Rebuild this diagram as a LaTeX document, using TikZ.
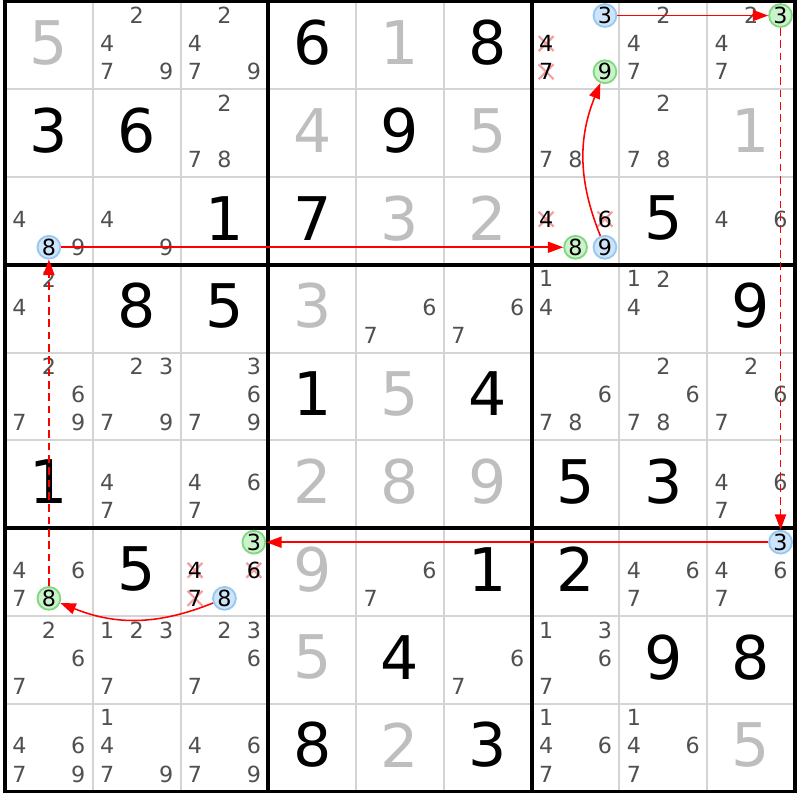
\documentclass[tikz,border=0pt]{standalone}
\usepackage{fontspec}
\setmainfont{DejaVu Sans}
\usepackage{tikz}
\usepackage{xcolor}
\usetikzlibrary{positioning, arrows.meta}

\definecolor{givengray}{RGB}{190,190,190}
\definecolor{candgray}{RGB}{80,80,80}
\definecolor{cellline}{RGB}{212,212,212}
\definecolor{onfill}{RGB}{206,228,250}
\definecolor{ondraw}{RGB}{150,200,240}
\definecolor{offfill}{RGB}{204,242,204}
\definecolor{offdraw}{RGB}{128,216,128}
\definecolor{strikecol}{RGB}{244,160,160}

\tikzset{
  given/.style={inner sep=0pt, text=givengray, font=\fontsize{19.5}{20}\selectfont},
  solved/.style={given, text=black},
  cand/.style={inner sep=0pt, text=candgray, font=\fontsize{7.2}{8}\selectfont},
  oncand/.style={circle, draw=ondraw, fill=onfill, line width=0.6pt, minimum size=0.26cm, inner sep=0pt, text=black, font=\fontsize{7.2}{8}\selectfont},
  offcand/.style={oncand, draw=offdraw, fill=offfill},
  strike/.style={strikecol, line width=0.7pt},
  link/.style={red, line width=0.5pt, -{Triangle[length=5pt, width=3.6pt]}},
  weak/.style={link, dash pattern=on 2.5pt off 1.5pt},
}

\begin{document}
\begin{tikzpicture}
\useasboundingbox[fill=white] (-0.057,-0.097) rectangle (9.057,9.017);

% grid
\foreach \i in {1,2,4,5,7,8} {
  \draw[cellline, line width=0.65pt] (\i,0) -- (\i,9);
  \draw[cellline, line width=0.65pt] (0,\i) -- (9,\i);
}
\foreach \i in {0,3,6,9} {
  \draw[black, line width=1.2pt] (\i,-0.02) -- (\i,9.02);
  \draw[black, line width=1.2pt] (-0.02,\i) -- (9.02,\i);
}

% big digits
\foreach \r/\c/\d in {1/1/5, 1/5/1, 2/4/4, 2/6/5, 2/9/1, 3/5/3, 3/6/2, 4/4/3, 5/5/5, 6/4/2, 6/5/8, 6/6/9, 7/4/9, 8/4/5, 9/5/2, 9/9/5}
  \node[given] (v\r\c) at ({\c-0.5},{9.53-\r}) {\d};
\foreach \r/\c/\d in {1/4/6, 1/6/8, 2/1/3, 2/2/6, 2/5/9, 3/3/1, 3/4/7, 3/8/5, 4/2/8, 4/3/5, 4/9/9, 5/4/1, 5/6/4, 6/1/1, 6/7/5, 6/8/3, 7/2/5, 7/6/1, 7/7/2, 8/5/4, 8/8/9, 8/9/8, 9/4/8, 9/6/3}
  \node[solved] (v\r\c) at ({\c-0.5},{9.53-\r}) {\d};

% candidates
\foreach \r/\c/\ds in {1/2/{2,4,7,9}, 1/3/{2,4,7,9}, 1/8/{2,4,7}, 1/9/{2,4,7},
    2/3/{2,7,8}, 2/7/{7,8}, 2/8/{2,7,8}, 3/1/{4,9}, 3/2/{4,9}, 3/9/{4,6},
    4/1/{2,4}, 4/5/{6,7}, 4/6/{6,7}, 4/7/{1,4}, 4/8/{1,2,4},
    5/1/{2,6,7,9}, 5/2/{2,3,7,9}, 5/3/{3,6,7,9}, 5/7/{6,7,8}, 5/8/{2,6,7,8}, 5/9/{2,6,7},
    6/2/{4,7}, 6/3/{4,6,7}, 6/9/{4,6,7},
    7/1/{4,6,7}, 7/5/{6,7}, 7/8/{4,6,7}, 7/9/{4,6,7},
    8/1/{2,6,7}, 8/2/{1,2,3,7}, 8/3/{2,3,6,7}, 8/6/{6,7}, 8/7/{1,3,6,7},
    9/1/{4,6,7,9}, 9/2/{1,4,7,9}, 9/3/{4,6,7,9}, 9/7/{1,4,6,7}, 9/8/{1,4,6,7}}
  \foreach \d in \ds
    \node[cand] (p\r\c\d) at ({\c-0.835+0.335*mod(\d-1,3)},{9.84-\r-0.32*div(\d-1,3)}) {\d};

% eliminated candidates
\foreach \r/\c/\d in {1/7/4, 1/7/7, 3/7/4, 3/7/6, 7/3/4, 7/3/6, 7/3/7} {
  \coordinate (q) at ({\c-0.835+0.335*mod(\d-1,3)},{9.84-\r-0.32*div(\d-1,3)});
  \draw[strike] ([shift={(-0.085,-0.085)}]q) -- ([shift={(0.085,0.085)}]q);
  \draw[strike] ([shift={(-0.085,0.085)}]q) -- ([shift={(0.085,-0.085)}]q);
  \node[cand, text=black] (x\r\c\d) at (q) {\d};
}

% chain
\node[oncand] (r1c7d3) at (6.835,8.84) {3};
\node[offcand] (r1c7d9) at (6.835,8.20) {9};
\node[offcand] (r1c9d3) at (8.835,8.84) {3};
\node[oncand] (r3c1d8) at (0.5,6.20) {8};
\node[offcand] (r3c7d8) at (6.5,6.20) {8};
\node[oncand] (r3c7d9) at (6.835,6.20) {9};
\node[offcand] (r7c1d8) at (0.5,2.20) {8};
\node[offcand] (r7c3d3) at (2.835,2.84) {3};
\node[oncand] (r7c3d8) at (2.5,2.20) {8};
\node[oncand] (r7c9d3) at (8.835,2.84) {3};

\draw[link] (r3c1d8) -- (r3c7d8);
\draw[link] (r3c7d9) to[bend left=22] (r1c7d9);
\draw[link] (r1c7d3) -- (r1c9d3);
\draw[weak] (r1c9d3) -- (r7c9d3);
\draw[link] (r7c9d3) -- (r7c3d3);
\draw[link] (r7c3d8) to[bend left=22] (r7c1d8);
\draw[weak] (r7c1d8) -- (r3c1d8);
\end{tikzpicture}
\end{document}
